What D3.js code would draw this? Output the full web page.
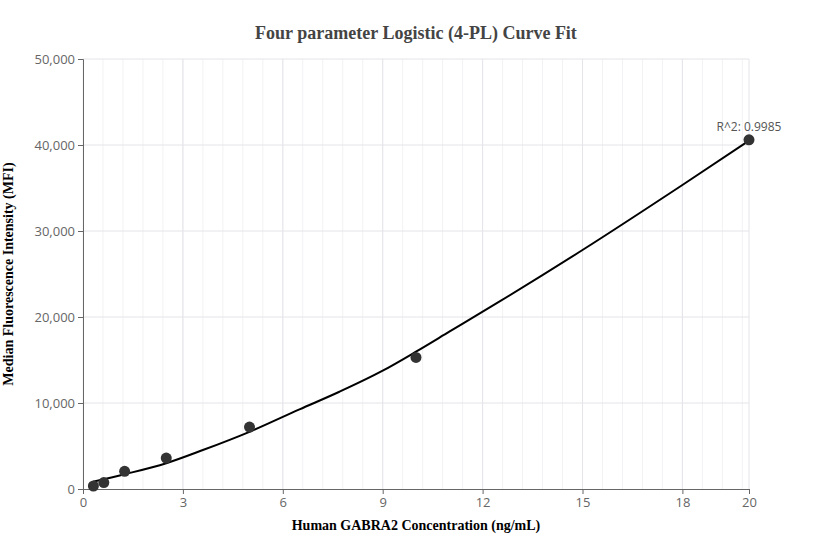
<!DOCTYPE html>
<html>
<head>
<meta charset="utf-8">
<script src="https://cdn.jsdelivr.net/npm/d3@7"></script>
<style>
  body { margin: 0; background: #fff; }
</style>
</head>
<body>
<svg id="chart" width="832" height="560"></svg>
<script>
// measured standards
const concentrations = [0.3125, 0.625, 1.25, 2.5, 5, 10, 20];
const mfiValues = [350, 750, 2050, 3600, 7200, 15300, 40600];

// fitted 4-PL curve
const curveX = [0.3, 1.25, 2.5, 3.6, 5, 6.5, 7.7, 9, 10, 11, 12.5, 15, 18, 20];
const curveY = [850, 1720, 3000, 4530, 6650, 9260, 11310, 13760, 15970, 18290, 21780, 27790, 35350, 40500];

const xTicks = [0, 3, 6, 9, 12, 15, 18, 20];
const yTicks = [0, 10000, 20000, 30000, 40000, 50000];
const rSquared = "R^2: 0.9985";

const width = 832, height = 560;
const margin = { top: 59, right: 83, bottom: 71, left: 83 };

const svg = d3.select("#chart");

const x = d3.scaleLinear().domain([0, 20]).range([margin.left, width - margin.right]);
const y = d3.scaleLinear().domain([0, 50000]).range([height - margin.bottom, margin.top]);

// minor vertical grid every 0.6
const minor = d3.range(0, 20.001, 0.6);
svg.append("g")
  .selectAll("line")
  .data(minor)
  .join("line")
  .attr("x1", d => x(d)).attr("x2", d => x(d))
  .attr("y1", y(0)).attr("y2", y(50000))
  .attr("stroke", "#f2f2f4");

// major grid
svg.append("g")
  .selectAll("line")
  .data(xTicks.filter(d => d > 0))
  .join("line")
  .attr("x1", d => x(d)).attr("x2", d => x(d))
  .attr("y1", y(0)).attr("y2", y(50000))
  .attr("stroke", "#e4e4ea");

svg.append("g")
  .selectAll("line")
  .data(yTicks.filter(d => d > 0))
  .join("line")
  .attr("x1", x(0)).attr("x2", x(20))
  .attr("y1", d => y(d)).attr("y2", d => y(d))
  .attr("stroke", "#e4e4ea");

// axes
const xAxis = svg.append("g")
  .attr("transform", `translate(0,${y(0)})`)
  .call(d3.axisBottom(x).tickValues(xTicks).tickSize(5).tickPadding(4));
const yAxis = svg.append("g")
  .attr("transform", `translate(${x(0)},0)`)
  .call(d3.axisLeft(y).tickValues(yTicks).tickSize(5).tickPadding(3).tickFormat(d3.format(",")));

[xAxis, yAxis].forEach(g => {
  g.select(".domain").attr("stroke", "#666");
  g.selectAll(".tick line").attr("stroke", "#666");
  g.selectAll(".tick text")
    .attr("fill", "#666")
    .style("font", "13px 'Open Sans', sans-serif");
});

// curve
const line = d3.line()
  .x(d => x(d[0]))
  .y(d => y(d[1]))
  .curve(d3.curveMonotoneX);

svg.append("path")
  .datum(curveX.map((v, i) => [v, curveY[i]]))
  .attr("d", line)
  .attr("fill", "none")
  .attr("stroke", "#000")
  .attr("stroke-width", 2);

// points
svg.append("g")
  .selectAll("circle")
  .data(concentrations.map((v, i) => [v, mfiValues[i]]))
  .join("circle")
  .attr("cx", d => x(d[0]))
  .attr("cy", d => y(d[1]))
  .attr("r", 5.5)
  .attr("fill", "#333");

// R^2 annotation
svg.append("text")
  .attr("x", x(20))
  .attr("y", y(mfiValues[6]) - 9)
  .attr("text-anchor", "middle")
  .attr("fill", "#555")
  .style("font", "12px 'Open Sans', sans-serif")
  .text(rSquared);

// title and labels
svg.append("text")
  .attr("x", 416).attr("y", 39)
  .attr("text-anchor", "middle")
  .attr("fill", "#444")
  .style("font", "bold 18px 'Liberation Serif', serif")
  .text("Four parameter Logistic (4-PL) Curve Fit");

svg.append("text")
  .attr("x", 416).attr("y", 530)
  .attr("text-anchor", "middle")
  .attr("fill", "#000")
  .style("font", "bold 14px 'Liberation Serif', serif")
  .text("Human GABRA2 Concentration (ng/mL)");

svg.append("text")
  .attr("transform", `translate(13,${(y(0) + y(50000)) / 2}) rotate(-90)`)
  .attr("text-anchor", "middle")
  .attr("fill", "#000")
  .style("font", "bold 14px 'Liberation Serif', serif")
  .text("Median Fluorescence Intensity (MFI)");
</script>
</body>
</html>
